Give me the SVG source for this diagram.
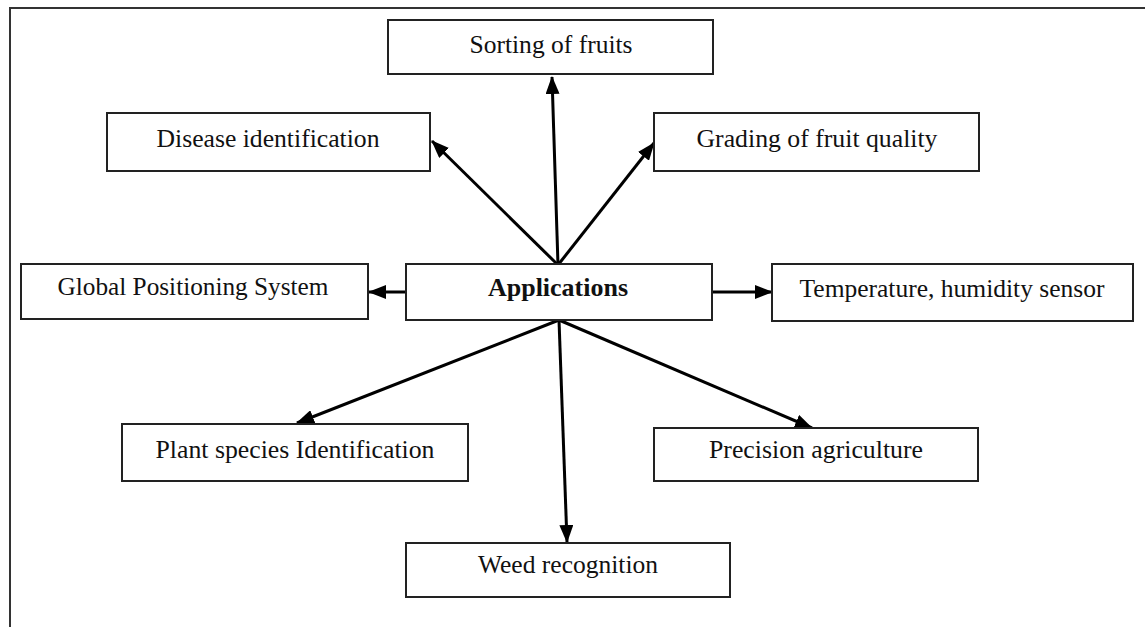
<svg xmlns="http://www.w3.org/2000/svg" width="1145" height="627" viewBox="0 0 1145 627">
<style>
.box{fill:#fff;stroke:#222;stroke-width:2}
.lbl{font-family:"Liberation Serif","Times New Roman",serif;font-size:25px;fill:#111;text-anchor:middle}
.b{font-weight:bold}
.con{stroke:#000;stroke-width:3;fill:none;marker-end:url(#ah)}
</style>
<defs>
<marker id="ah" markerUnits="userSpaceOnUse" markerWidth="18" markerHeight="14" refX="17" refY="7" orient="auto">
<path d="M0,0 L18,7 L0,14 z" fill="#000"/>
</marker>
</defs>
<rect width="1145" height="627" fill="#fff"/>
<path d="M10,627 L10,8 L1145,8" fill="none" stroke="#333" stroke-width="2"/>
<g id="connectors">
<line class="con" x1="558" y1="265" x2="552" y2="77"/>
<line class="con" x1="558" y1="265" x2="432" y2="141"/>
<line class="con" x1="558" y1="265" x2="654" y2="143"/>
<line class="con" x1="406" y1="292" x2="369" y2="292"/>
<line class="con" x1="712" y1="292" x2="772" y2="292"/>
<line class="con" x1="559" y1="320" x2="297" y2="423"/>
<line class="con" x1="559" y1="320" x2="567" y2="542"/>
<line class="con" x1="559" y1="320" x2="812" y2="428"/>
</g>
<g id="sorting"><rect class="box" x="388" y="20" width="325" height="54"/><text class="lbl" x="551" y="53" textLength="163" lengthAdjust="spacingAndGlyphs">Sorting of fruits</text></g>
<g id="disease"><rect class="box" x="107" y="113" width="323" height="58"/><text class="lbl" x="268" y="147" textLength="223" lengthAdjust="spacingAndGlyphs">Disease identification</text></g>
<g id="grading"><rect class="box" x="654" y="113" width="325" height="58"/><text class="lbl" x="817" y="147" textLength="241" lengthAdjust="spacingAndGlyphs">Grading of fruit quality</text></g>
<g id="gps"><rect class="box" x="21" y="264" width="347" height="55"/><text class="lbl" x="193" y="295" textLength="271" lengthAdjust="spacingAndGlyphs">Global Positioning System</text></g>
<g id="applications"><rect class="box" x="406" y="264" width="306" height="56"/><text class="lbl b" x="558" y="296" textLength="140" lengthAdjust="spacingAndGlyphs">Applications</text></g>
<g id="temperature"><rect class="box" x="772" y="264" width="361" height="57"/><text class="lbl" x="952" y="297" textLength="305" lengthAdjust="spacingAndGlyphs">Temperature, humidity sensor</text></g>
<g id="plant"><rect class="box" x="122" y="424" width="346" height="57"/><text class="lbl" x="295" y="458" textLength="279" lengthAdjust="spacingAndGlyphs">Plant species Identification</text></g>
<g id="precision"><rect class="box" x="654" y="428" width="324" height="53"/><text class="lbl" x="816" y="458" textLength="214" lengthAdjust="spacingAndGlyphs">Precision agriculture</text></g>
<g id="weed"><rect class="box" x="406" y="543" width="324" height="54"/><text class="lbl" x="568" y="573" textLength="180" lengthAdjust="spacingAndGlyphs">Weed recognition</text></g>
</svg>
